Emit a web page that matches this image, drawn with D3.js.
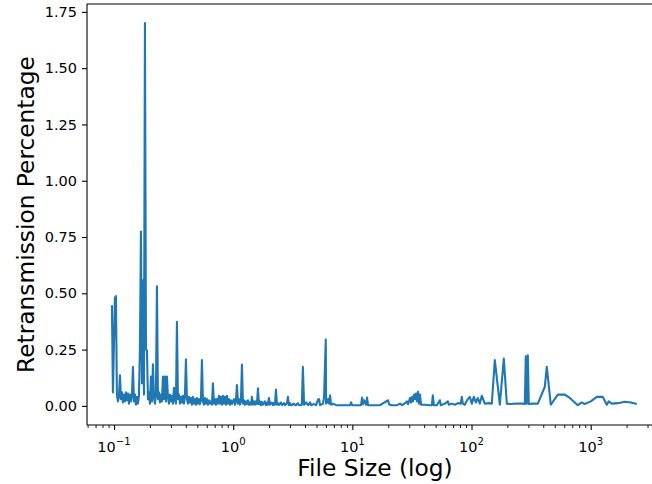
<!DOCTYPE html>
<html>
<head>
<meta charset="utf-8">
<script src="https://cdn.jsdelivr.net/npm/d3@7"></script>
<style>
	body { margin: 0; background: #fff; }
	text { font-family: "DejaVu Sans", sans-serif; fill: #000; }
</style>
</head>
<body>
<svg id="chart" width="652" height="484"></svg>
<script>
'use strict';

// file size (log axis) and retransmission percentage
var fileSize = [
	0.0960, 0.0979, 0.1017, 0.1037, 0.1057, 0.1078, 0.1099, 0.1121, 0.1143, 0.1165,
	0.1188, 0.1211, 0.1235, 0.1259, 0.1283, 0.1308, 0.1334, 0.1360, 0.1387, 0.1413,
	0.1441, 0.1469, 0.1498, 0.1527, 0.1557, 0.1587, 0.1618, 0.1650, 0.1682, 0.1715,
	0.1748, 0.1782, 0.1817, 0.1853, 0.1889, 0.1926, 0.1964, 0.2001, 0.2040, 0.2080,
	0.2121, 0.2162, 0.2204, 0.2247, 0.2291, 0.2336, 0.2382, 0.2428, 0.2475, 0.2523,
	0.2572, 0.2623, 0.2674, 0.2726, 0.2779, 0.2833, 0.2888, 0.2945, 0.3002, 0.3061,
	0.3121, 0.3182, 0.3244, 0.3307, 0.3371, 0.3437, 0.3504, 0.3573, 0.3643, 0.3713,
	0.3785, 0.3860, 0.3935, 0.4012, 0.4090, 0.4170, 0.4251, 0.4334, 0.4419, 0.4505,
	0.4593, 0.4682, 0.4774, 0.4867, 0.4962, 0.5058, 0.5157, 0.5258, 0.5361, 0.5465,
	0.5572, 0.5680, 0.5791, 0.5904, 0.6019, 0.6137, 0.6257, 0.6378, 0.6503, 0.6630,
	0.6759, 0.6891, 0.7026, 0.7162, 0.7302, 0.7445, 0.7590, 0.7738, 0.7889, 0.8043,
	0.8200, 0.8360, 0.8523, 0.8689, 0.8859, 0.9031, 0.9207, 0.9387, 0.9570, 0.9757,
	0.9947, 1.014, 1.034, 1.054, 1.075, 1.096, 1.117, 1.139, 1.161, 1.184,
	1.207, 1.230, 1.254, 1.279, 1.304, 1.329, 1.355, 1.382, 1.409, 1.436,
	1.464, 1.493, 1.522, 1.552, 1.582, 1.613, 1.644, 1.676, 1.709, 1.742,
	1.776, 1.811, 1.846, 1.882, 1.919, 1.957, 1.995, 2.034, 2.074, 2.114,
	2.155, 2.197, 2.240, 2.284, 2.329, 2.374, 2.420, 2.467, 2.516, 2.564,
	2.615, 2.665, 2.717, 2.770, 2.825, 2.879, 2.936, 2.993, 3.052, 3.111,
	3.172, 3.233, 3.297, 3.361, 3.427, 3.493, 3.561, 3.631,
	3.770, 3.843, 3.934, 4.089, 4.250, 4.417, 4.503, 4.771, 4.960, 5.155,
	5.256, 5.358, 5.678, 5.789, 5.981, 6.017, 6.134, 6.254, 6.376, 6.500,
	6.627, 6.888, 7.300, 8.197, 9.565, 9.752, 9.942, 11.16, 11.83, 12.06,
	12.29, 12.53, 13.03, 13.28, 13.54, 15.50, 17.08, 19.93, 20.32, 21.54,
	23.71, 25.13, 26.12, 27.67, 28.76, 29.32, 30.47, 31.06, 31.68, 32.30,
	32.93, 33.57, 34.23, 34.89, 35.57, 36.27, 36.98, 37.70, 40.73, 44.69,
	46.45, 47.35, 48.28, 51.16, 54.21, 55.26, 59.70, 63.26, 64.50, 68.34,
	72.41, 76.73, 81.31, 82.90, 84.52, 87.85, 93.11, 96.72, 100.6, 104.5,
	108.7, 112.9, 117.4, 122.0, 129.3, 142.4, 148.0, 156.9, 172.8, 186.6,
	197.8, 209.6, 235.3, 264.2, 280.0, 285.4, 291.0, 296.7, 302.5, 326.8,
	360.1, 412.2, 428.4, 462.8, 529.7, 606.4, 667.9, 779.6, 842.1, 892.4,
	1002, 1125, 1264, 1365, 1419, 1503, 1688, 1932, 2170, 2437
];

var retransPct = [
	0.447, 0.06, 0.48, 0.487, 0.05, 0.02, 0.04, 0.136, 0.03, 0.06,
	0.015, 0.05, 0.02, 0.06, 0.025, 0.055, 0.01, 0.05, 0.02, 0.045,
	0.173, 0.02, 0.05, 0.005, 0.04, 0.01, 0.045, 0.26, 0.774, 0.1,
	0.558, 0.05, 1.70, 0.25, 0.247, 0.03, 0.06, 0.01, 0.13, 0.02,
	0.185, 0.04, 0.01, 0.05, 0.531, 0.03, 0.06, 0.015, 0.05, 0.02,
	0.13, 0.03, 0.13, 0.02, 0.13, 0.04, 0.01, 0.05, 0.02, 0.045,
	0.01, 0.08, 0.03, 0.01, 0.373, 0.03, 0.05, 0.01, 0.04, 0.015,
	0.045, 0.01, 0.04, 0.207, 0.03, 0.01, 0.04, 0.015, 0.035, 0.005,
	0.04, 0.01, 0.03, 0.005, 0.035, 0.01, 0.03, 0.008, 0.025, 0.203,
	0.02, 0.005, 0.035, 0.01, 0.03, 0.005, 0.025, 0.01, 0.02, 0.005,
	0.10, 0.01, 0.03, 0.005, 0.03, 0.01, 0.045, 0.01, 0.04, 0.005,
	0.045, 0.01, 0.04, 0.005, 0.045, 0.01, 0.03, 0.005, 0.025, 0.008,
	0.02, 0.03, 0.005, 0.02, 0.092, 0.01, 0.03, 0.005, 0.02, 0.184,
	0.01, 0.025, 0.005, 0.02, 0.008, 0.025, 0.005, 0.015, 0.005, 0.04,
	0.005, 0.02, 0.005, 0.02, 0.008, 0.078, 0.008, 0.02, 0.003, 0.018,
	0.005, 0.012, 0.02, 0.003, 0.015, 0.005, 0.035, 0.005, 0.012, 0.015,
	0.003, 0.012, 0.005, 0.072, 0.005, 0.012, 0.004, 0.01, 0.015, 0.003,
	0.01, 0.012, 0.003, 0.008, 0.01, 0.04, 0.003, 0.012, 0.004, 0.003,
	0.008, 0.01, 0.004, 0.003, 0.008, 0.012, 0.004, 0.003,
	0.005, 0.173, 0.005, 0.015, 0.003, 0.016, 0.003, 0.008, 0.003, 0.028,
	0.03, 0.003, 0.01, 0.04, 0.295, 0.01, 0.015, 0.03, 0.01, 0.047,
	0.005, 0.01, 0.003, 0.003, 0.003, 0.016, 0.003, 0.003, 0.003, 0.037,
	0.008, 0.025, 0.005, 0.037, 0.003, 0.003, 0.003, 0.025, 0.006, 0.003,
	0.003, 0.01, 0.003, 0.012, 0.02, 0.008, 0.035, 0.015, 0.04, 0.02,
	0.05, 0.03, 0.055, 0.02, 0.062, 0.01, 0.05, 0.005, 0.005, 0.003,
	0.003, 0.047, 0.003, 0.003, 0.025, 0.003, 0.01, 0.02, 0.005, 0.01,
	0.005, 0.012, 0.01, 0.04, 0.01, 0.005, 0.03, 0.04, 0.01, 0.04,
	0.015, 0.035, 0.01, 0.045, 0.01, 0.012, 0.01, 0.203, 0.005, 0.21,
	0.01, 0.008, 0.01, 0.01, 0.008, 0.22, 0.01, 0.225, 0.008, 0.01,
	0.01, 0.085, 0.173, 0.005, 0.05, 0.05, 0.035, 0.003, 0.015, 0.008,
	0.02, 0.04, 0.04, 0.005, 0.02, 0.01, 0.012, 0.018, 0.015, 0.008
];

var yTicks = [0, 0.25, 0.5, 0.75, 1.0, 1.25, 1.5, 1.75];
var xMajorExps = [-1, 0, 1, 2, 3];
var xLim = [0.0593, 4045],
		yLim = [-0.085, 1.785];

var margin = { top: 4, left: 87 },
		width = 576,
		height = 421,
		tickFont = 14.5,
		labelFont = 23.3;

var svg = d3.select('#chart');
svg.append('rect').attr('width', 652).attr('height', 484).attr('fill', '#fff');

var g = svg.append('g')
	.attr('transform', 'translate(' + margin.left + ',' + margin.top + ')');

var x = d3.scaleLog().domain(xLim).range([0, width]);
var y = d3.scaleLinear().domain(yLim).range([height, 0]);

var points = fileSize.map(function (s, i) { return { size: s, pct: retransPct[i] }; });

g.append('path')
	.datum(points)
	.attr('fill', 'none')
	.attr('stroke', '#1f77b4')
	.attr('stroke-width', 2.1)
	.attr('stroke-linejoin', 'round')
	.attr('d', d3.line()
		.x(function (d) { return x(d.size); })
		.y(function (d) { return y(d.pct); })
	);

// y axis
var yAxis = g.append('g')
	.call(d3.axisLeft(y).tickValues(yTicks).tickFormat(d3.format('.2f'))
		.tickSize(5).tickPadding(5).tickSizeOuter(0));
yAxis.select('.domain').remove();
yAxis.attr('font-size', tickFont).attr('font-family', '"DejaVu Sans", sans-serif');
yAxis.selectAll('line').attr('stroke-width', 1.1);

// x axis, major and minor ticks
var majors = xMajorExps.map(function (e) { return Math.pow(10, e); });
var minors = [];
for (var e = -2; e <= 3; e++) {
	for (var m = 2; m <= 9; m++) {
		var v = m * Math.pow(10, e);
		if (v > xLim[0] && v < xLim[1]) minors.push(v);
	}
}

var xAxis = g.append('g')
	.attr('transform', 'translate(0,' + height + ')')
	.call(d3.axisBottom(x).tickValues(majors).tickFormat('').tickSize(5).tickSizeOuter(0));
xAxis.select('.domain').remove();
xAxis.selectAll('line').attr('stroke-width', 1.1);

var xMinor = g.append('g')
	.attr('transform', 'translate(0,' + height + ')')
	.call(d3.axisBottom(x).tickValues(minors).tickFormat('').tickSize(3).tickSizeOuter(0));
xMinor.select('.domain').remove();
xMinor.selectAll('line').attr('stroke-width', 0.9);

var xLabels = g.selectAll('.xlab')
	.data(xMajorExps)
	.enter().append('text')
	.attr('class', 'xlab')
	.attr('x', function (d) { return x(Math.pow(10, d)); })
	.attr('y', height + 27)
	.attr('text-anchor', 'middle')
	.attr('font-size', tickFont);
xLabels.append('tspan').text('10');
xLabels.append('tspan')
	.attr('dy', -7)
	.attr('font-size', tickFont * 0.7)
	.text(function (d) { return d < 0 ? '\u2212' + Math.abs(d) : String(d); });

// spines
var spine = [
	[0, 0, 0, height],
	[0, height, width, height],
	[0, 0, width, 0],
	[width, 0, width, height]
];
g.selectAll('.spine')
	.data(spine)
	.enter().append('line')
	.attr('x1', function (d) { return d[0]; })
	.attr('y1', function (d) { return d[1]; })
	.attr('x2', function (d) { return d[2]; })
	.attr('y2', function (d) { return d[3]; })
	.attr('stroke', '#000')
	.attr('stroke-width', 1.1);

// axis titles
svg.append('text')
	.attr('x', margin.left + width / 2)
	.attr('y', 476)
	.attr('text-anchor', 'middle')
	.attr('font-size', labelFont)
	.text('File Size (log)');

svg.append('text')
	.attr('transform', 'translate(34,' + (margin.top + height / 2) + ') rotate(-90)')
	.attr('text-anchor', 'middle')
	.attr('font-size', labelFont)
	.text('Retransmission Percentage');
</script>
</body>
</html>
